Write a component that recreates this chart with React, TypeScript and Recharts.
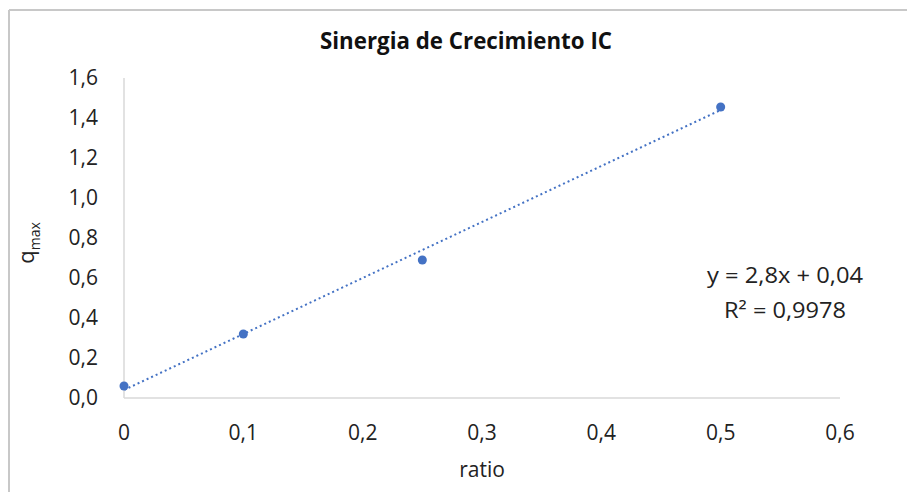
import React from 'react';
import { ScatterChart, Scatter, XAxis, YAxis, ReferenceLine } from 'recharts';

// ---- data ----
const ratios = [0, 0.1, 0.25, 0.5];
const qmaxValues = [0.06, 0.32, 0.69, 1.455];
const xTicks = [0, 0.1, 0.2, 0.3, 0.4, 0.5, 0.6];
const yTicks = [0, 0.2, 0.4, 0.6, 0.8, 1.0, 1.2, 1.4, 1.6];
const trendSlope = 2.8;
const trendIntercept = 0.04;
const trendRange = [0, 0.5];
const titleText = 'Sinergia de Crecimiento IC';
const xAxisTitle = 'ratio';
const yAxisTitleMain = 'q';
const yAxisTitleSub = 'max';
const equationText = 'y = 2,8x + 0,04';
const r2Text = 'R² = 0,9978';

const points = ratios.map((x, i) => ({ x, y: qmaxValues[i] }));
const trendSegment = trendRange.map((x) => ({ x, y: trendSlope * x + trendIntercept }));

const BLUE = '#4472C4';
const AXIS = '#d9d9d9';
const TEXT = '#222222';
const FONT = '"Open Sans", "Noto Sans", sans-serif';

const W = 899;
const H = 484;

const fmtX = (v: number) => (v === 0 ? '0' : v.toFixed(1).replace('.', ','));
const fmtY = (v: number) => v.toFixed(1).replace('.', ',');

export default function App() {
  return (
    <div style={{ position: 'relative', width: W, height: H, background: '#fff' }}>
      <ScatterChart width={W} height={H} margin={{ top: 70, right: 67, bottom: 34, left: 0 }}>
        <XAxis
          type="number"
          dataKey="x"
          domain={[0, 0.6]}
          ticks={xTicks}
          tickFormatter={fmtX}
          height={60}
          axisLine={{ stroke: AXIS, strokeWidth: 1.5 }}
          tickLine={false}
          tickSize={0}
          tickMargin={27}
          tick={{ fontSize: 21, fill: TEXT, fontFamily: FONT }}
          interval={0}
        />
        <YAxis
          type="number"
          dataKey="y"
          domain={[0, 1.6]}
          ticks={yTicks}
          tickFormatter={fmtY}
          width={116}
          axisLine={{ stroke: AXIS, strokeWidth: 1.5 }}
          tickLine={false}
          tickSize={0}
          tickMargin={26}
          tick={{ fontSize: 21, fill: TEXT, fontFamily: FONT }}
          interval={0}
        />
        <ReferenceLine
          segment={trendSegment}
          stroke={BLUE}
          strokeWidth={2}
          strokeDasharray="2 3"
          ifOverflow="visible"
        />
        <Scatter data={points} fill={BLUE} isAnimationActive={false} />
      </ScatterChart>
      <svg
        width={W}
        height={H}
        style={{ position: 'absolute', left: 0, top: 0, pointerEvents: 'none' }}
      >
        <line x1={1} y1={2} x2={W} y2={2} stroke="#c8c8c8" strokeWidth={2} />
        <line x1={1} y1={2} x2={1} y2={H} stroke="#c8c8c8" strokeWidth={2} />
        <text
          x={458}
          y={41}
          textAnchor="middle"
          fontFamily={FONT}
          fontWeight={700}
          fontSize={24}
          fill="#111"
          textLength={292}
          lengthAdjust="spacingAndGlyphs"
        >
          {titleText}
        </text>
        <text x={474} y={469} textAnchor="middle" fontFamily={FONT} fontSize={21} fill={TEXT}>
          {xAxisTitle}
        </text>
        <text
          transform="translate(26, 235) rotate(-90)"
          textAnchor="middle"
          fontFamily={FONT}
          fontSize={22}
          fill={TEXT}
        >
          <tspan>{yAxisTitleMain}</tspan>
          <tspan fontSize={14} dy={6}>{yAxisTitleSub}</tspan>
        </text>
        <text
          x={777}
          y={274.5}
          textAnchor="middle"
          fontFamily={FONT}
          fontSize={21}
          fill={TEXT}
          textLength={156}
          lengthAdjust="spacingAndGlyphs"
        >
          {equationText}
        </text>
        <text
          x={777}
          y={309.5}
          textAnchor="middle"
          fontFamily={FONT}
          fontSize={21}
          fill={TEXT}
          textLength={122}
          lengthAdjust="spacingAndGlyphs"
        >
          {r2Text}
        </text>
      </svg>
    </div>
  );
}
